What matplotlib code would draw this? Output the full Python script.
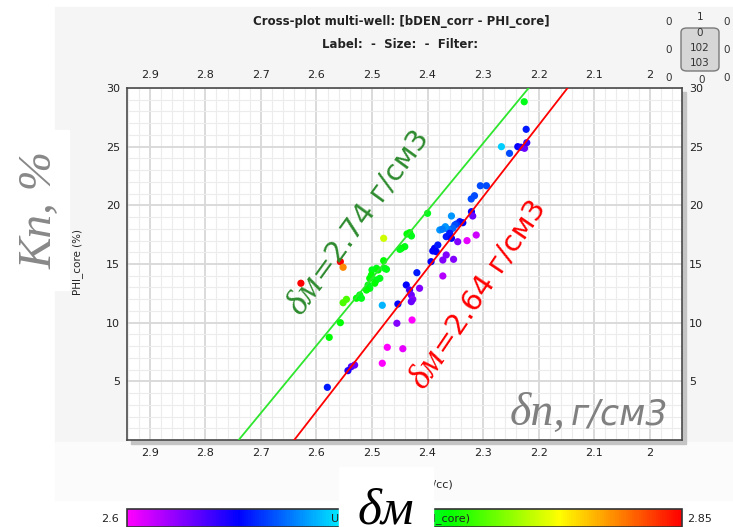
import matplotlib
matplotlib.use("Agg")
import matplotlib.pyplot as plt
import numpy as np
from matplotlib.colors import LinearSegmentedColormap, Normalize
from matplotlib.cm import ScalarMappable
from matplotlib.patches import Rectangle, FancyBboxPatch
from matplotlib.ticker import MultipleLocator

W, H = 733, 527

#----------Data----------#
# points close to the 2.74 line (bulk density, core porosity, matrix density)
den_a = [2.226, 2.400, 2.432, 2.429, 2.437, 2.441, 2.447, 2.450, 2.479, 2.492,
         2.500, 2.489, 2.477, 2.474, 2.504, 2.492, 2.486, 2.501, 2.507, 2.495,
         2.504, 2.510, 2.522, 2.528, 2.519, 2.546, 2.552, 2.557, 2.577, 2.479,
         2.628, 2.557, 2.552]
phi_a = [28.83, 19.32, 17.67, 17.39, 17.56, 16.48, 16.34, 16.25, 15.28, 14.63,
         14.49, 14.49, 14.63, 14.55, 13.78, 13.64, 13.78, 14.06, 13.21, 13.36,
         12.93, 12.78, 12.36, 12.08, 12.08, 11.99, 11.70, 10.00, 8.75, 17.19,
         13.36, 15.20, 14.72]
dm_a = [2.74, 2.74, 2.745, 2.74, 2.745, 2.74, 2.745, 2.74, 2.745, 2.74,
        2.74, 2.745, 2.74, 2.74, 2.745, 2.74, 2.74, 2.745, 2.74, 2.745,
        2.74, 2.745, 2.74, 2.745, 2.74, 2.76, 2.76, 2.745, 2.745, 2.785,
        2.85, 2.85, 2.82]

# points around the 2.64 line
den_b = [2.2225, 2.267, 2.2525, 2.2376, 2.2315, 2.2255, 2.2214, 2.305, 2.294, 2.3155,
         2.3214, 2.321, 2.3187, 2.357, 2.342, 2.3365, 2.348, 2.351, 2.3545, 2.3635,
         2.368, 2.378, 2.3736, 2.360, 2.3664, 2.357, 2.3457, 2.329, 2.3124, 2.3874,
         2.3815, 2.3844, 2.3906, 2.3664, 2.3725, 2.3532, 2.3937, 2.3725, 2.4192, 2.4383,
         2.4324, 2.4293, 2.4144, 2.4266, 2.4293, 2.4534, 2.4815, 2.4279, 2.4552, 2.4725,
         2.4445, 2.4815, 2.5372, 2.5433, 2.5313, 2.5804]
phi_b = [26.48, 25.00, 24.43, 25.00, 24.95, 24.86, 25.34, 21.67, 21.67, 20.82,
         20.54, 19.46, 19.09, 19.09, 18.61, 18.52, 18.41, 18.32, 18.04, 17.96,
         18.18, 17.90, 17.96, 17.62, 17.33, 17.19, 16.90, 16.99, 17.47, 16.34,
         16.62, 16.05, 16.11, 15.77, 15.34, 15.40, 15.20, 13.98, 14.26, 13.21,
         12.78, 12.36, 12.93, 11.99, 11.79, 11.59, 11.48, 10.23, 9.95, 7.90,
         7.78, 6.54, 6.25, 5.91, 6.39, 4.49]
dm_b = [2.655, 2.69, 2.665, 2.65, 2.645, 2.63, 2.64, 2.665, 2.665, 2.665,
        2.665, 2.65, 2.63, 2.68, 2.655, 2.65, 2.66, 2.665, 2.67, 2.675,
        2.68, 2.68, 2.675, 2.655, 2.655, 2.65, 2.625, 2.605, 2.61, 2.65,
        2.655, 2.65, 2.65, 2.625, 2.625, 2.625, 2.65, 2.615, 2.655, 2.65,
        2.64, 2.63, 2.625, 2.625, 2.63, 2.65, 2.685, 2.60, 2.625, 2.60,
        2.605, 2.60, 2.635, 2.645, 2.63, 2.655]

# matrix density lines
line_dm = [2.74, 2.64]
line_colors = ["#2ee62e", "#ff0000"]
text_colors = ["#2e8b2e", "#ff0000"]
fluid_den = 1.0

x_ticks = [2.9, 2.8, 2.7, 2.6, 2.5, 2.4, 2.3, 2.2, 2.1, 2.0]
x_labels = ["2.9", "2.8", "2.7", "2.6", "2.5", "2.4", "2.3", "2.2", "2.1", "2"]
y_ticks = [5, 10, 15, 20, 25, 30]
cb_min, cb_max = 2.6, 2.85

cmap = LinearSegmentedColormap.from_list("dm", [
    (0.0, "#ff00ff"), (0.2, "#0000ff"), (0.38, "#00e5ff"),
    (0.58, "#00ff00"), (0.78, "#ffff00"), (1.0, "#ff0000")])
norm = Normalize(cb_min, cb_max)


def fx(px):
    return px / W


def fy(py):
    return 1 - py / H


#----------Main----------#
fig = plt.figure(figsize=(W / 100, H / 100), dpi=100)
fig.patch.set_facecolor("white")

# grey panel behind the chart
fig.add_artist(Rectangle((fx(55), fy(442)), 1 - fx(55), fy(7) - fy(442),
                         transform=fig.transFigure, color="#f5f5f5", zorder=-3))
fig.add_artist(Rectangle((fx(55), fy(500)), 1 - fx(55), fy(442) - fy(500),
                         transform=fig.transFigure, color="#fbfbfb", zorder=-3))
# shadow of the plot frame
fig.add_artist(Rectangle((fx(131), fy(444)), fx(686) - fx(131), fy(92) - fy(444),
                         transform=fig.transFigure, color="#c4c4c4", zorder=-2))

ax = fig.add_axes([fx(127), fy(440), fx(682) - fx(127), fy(88) - fy(440)])
ax.set_facecolor("white")
ax.set_xlim(2.941, 1.942)
ax.set_ylim(0, 30)

ax.xaxis.set_minor_locator(MultipleLocator(0.02))
ax.yaxis.set_minor_locator(MultipleLocator(1))
ax.set_xticks(x_ticks)
ax.set_xticklabels(x_labels)
ax.set_yticks(y_ticks)
ax.grid(which="minor", color="#ececec", lw=0.8)
ax.grid(which="major", color="#d8d8d8", lw=1.3)
ax.set_axisbelow(True)
ax.tick_params(which="both", length=0, labelsize=8, labelcolor="#222222",
               top=True, labeltop=True, right=True, labelright=True)
ax.tick_params(axis="x", pad=6)
ax.tick_params(axis="y", pad=5)
for sp in ax.spines.values():
    sp.set_color("#4a4a4a")
    sp.set_linewidth(1.2)

ax.scatter(den_a, phi_a, c=dm_a, cmap=cmap, norm=norm, s=27, lw=0, zorder=3)
ax.scatter(den_b, phi_b, c=dm_b, cmap=cmap, norm=norm, s=27, lw=0, zorder=3)

phi_line = np.array([0.0, 30.0])
for dm, col in zip(line_dm, line_colors):
    rho = dm - phi_line / 100 * (dm - fluid_den)
    ax.plot(rho, phi_line, color=col, lw=1.3, zorder=4)

# axis titles
fig.text(fx(401), fy(22), "Cross-plot multi-well: [bDEN_corr - PHI_core]",
         ha="center", va="center", fontsize=8.5, fontweight="bold", color="#222222")
fig.text(fx(400), fy(44), "Label:  -  Size:  -  Filter:",
         ha="center", va="center", fontsize=8.5, fontweight="bold", color="#222222")
fig.text(fx(453), fy(485), "bDEN_corr (g/cc)", ha="right", va="center",
         fontsize=8, color="#222222")
fig.text(fx(78), fy(262), "PHI_core (%)", ha="center", va="center",
         rotation=90, fontsize=7.5, color="#222222")

# colour bar
cax = fig.add_axes([fx(127), 0, fx(682) - fx(127), fy(509)])
cb = fig.colorbar(ScalarMappable(norm=norm, cmap=cmap), cax=cax,
                  orientation="horizontal")
cb.set_ticks([])
cb.outline.set_edgecolor("#333333")
cb.outline.set_linewidth(1.2)
fig.text(fx(119), fy(519), "2.6", ha="right", va="center", fontsize=8, color="#222222")
fig.text(fx(687), fy(519), "2.85", ha="left", va="center", fontsize=8, color="#222222")
fig.text(fx(331), fy(519), "Uniform val (GDEN_core)", ha="left", va="center",
         fontsize=8, color="#222222")

# top-right selector widget
fig.add_artist(FancyBboxPatch((fx(681), fy(71)), fx(719) - fx(681), fy(28) - fy(71),
                              boxstyle="round,pad=0,rounding_size=0.008",
                              transform=fig.transFigure, facecolor="#d6d6d6",
                              edgecolor="#7a7a7a", lw=1, zorder=5))
wid = dict(fontsize=7.5, color="#333333", ha="center", va="center", zorder=6)
fig.text(fx(700), fy(17), "1", **wid)
fig.text(fx(700), fy(33), "0", **wid)
fig.text(fx(700), fy(48), "102", **wid)
fig.text(fx(700), fy(63), "103", **wid)
fig.text(fx(702), fy(80), "0", **wid)
for yy in [22, 50, 78]:
    fig.text(fx(669), fy(yy), "0", **wid)
    fig.text(fx(727), fy(yy), "0", **wid)

# matrix density annotations along the lines
anchors = [(324, 284), (446, 357)]
angles = [54, 56]
for (apx, apy), ang, dm, col in zip(anchors, angles, line_dm, text_colors):
    fig.text(fx(apx), fy(apy), "δм", ha="right", va="baseline", rotation=ang,
             rotation_mode="anchor", fontsize=26, color=col,
             family="Liberation Serif", style="italic", zorder=7)
    fig.text(fx(apx), fy(apy), "=%.2f г/см3" % dm, ha="left", va="baseline",
             rotation=ang, rotation_mode="anchor", fontsize=21, color=col,
             family="DejaVu Sans", zorder=7)

# pasted russian labels
fig.text(fx(566), fy(425), "δп,", ha="right", va="baseline", fontsize=33,
         color="#808080", family="Liberation Serif", style="italic", zorder=7)
fig.text(fx(571), fy(425), "г/см3", ha="left", va="baseline", fontsize=25,
         color="#808080", family="DejaVu Sans", style="italic", zorder=7)

fig.add_artist(Rectangle((0, fy(290)), fx(69), fy(130) - fy(290),
                         transform=fig.transFigure, color="white", zorder=8))
fig.text(fx(40), fy(210), "Кп, %", ha="center", va="center", rotation=90,
         fontsize=34, color="#888888", family="Liberation Serif", style="italic",
         zorder=9)

fig.add_artist(Rectangle((fx(339), 0), fx(433) - fx(339), fy(467),
                         transform=fig.transFigure, color="white", zorder=8))
fig.text(fx(386), fy(511), "δм", ha="center", va="center", fontsize=37,
         color="black", family="Liberation Serif", style="italic", zorder=9)

fig.savefig("out.png", dpi=100)
